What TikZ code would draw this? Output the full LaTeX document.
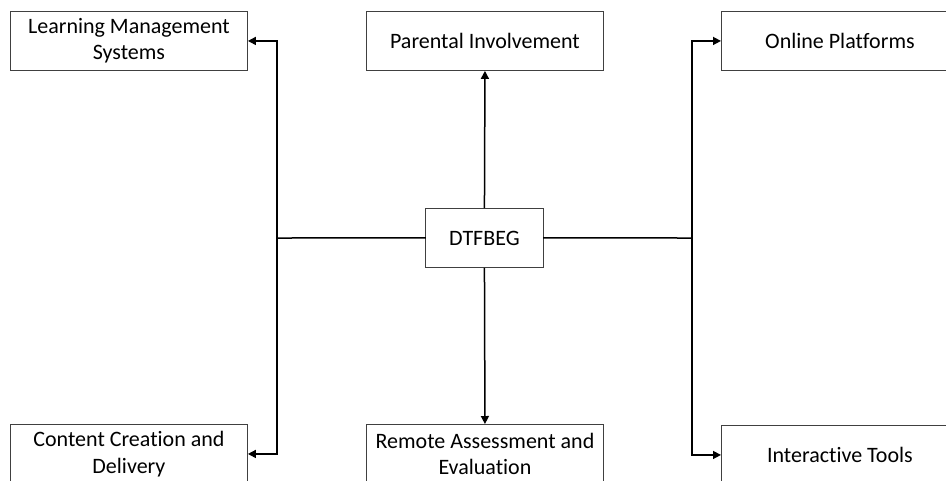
\documentclass[tikz,border=0pt]{standalone}
\usepackage{fontspec}
\setmainfont{Carlito}[Ligatures=NoCommon]
\usetikzlibrary{arrows.meta}
\begin{document}
\begin{tikzpicture}[x=1pt,y=-1pt,
  box/.style={draw=black!75, line width=0.9pt, minimum width=237pt, minimum height=59pt,
    align=center, inner sep=0pt, anchor=north west, font=\fontsize{22}{26.5}\selectfont},
  conn/.style={line width=1.5pt, -{Triangle[length=8pt,width=8pt]}},
  link/.style={line width=1.5pt, line cap=rect}]
\useasboundingbox (0,0) rectangle (946,480);
\node[box] (lms) at (10,11) {Learning Management\\Systems};
\node[box] (par) at (366,11) {Parental Involvement};
\node[box] (onl) at (721,11) {Online Platforms};
\node[box, minimum width=118pt] (c) at (425,208) {DTFBEG};
\node[box] (ccd) at (10,424) {Content Creation and\\Delivery};
\node[box] (rae) at (366,424) {Remote Assessment and\\Evaluation};
\node[box] (int) at (721,425) {Interactive Tools};
\coordinate (lj) at (277,238);
\coordinate (rj) at (692,238);
\draw[link] (c.west) -- (lj);
\draw[link] (c.east) -- (rj);
\draw[conn] (lj) |- (lms.east);
\draw[conn] (lj) |- (ccd.east);
\draw[conn] (rj) |- (onl.west);
\draw[conn] (rj) |- (int.west);
\draw[conn] (c.north) -- (par.south);
\draw[conn] (c.south) -- (rae.north);
\end{tikzpicture}
\end{document}
